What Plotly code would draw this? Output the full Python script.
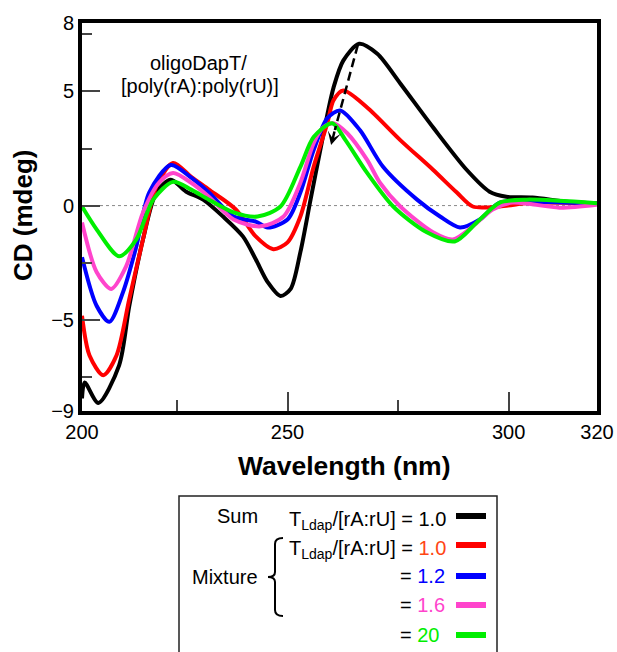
import plotly.graph_objects as go

# ---------------- data ----------------
sum_x = [203.5, 204.1, 207.2, 211.9, 214.2, 217.3, 220.3, 223.6, 227.0, 230.9, 235.4, 239.9,
         242.8, 245.5, 248.4, 250.7, 252.9, 255.2, 257.4, 259.2, 260.4, 262.6, 266.2, 270.3,
         275.5, 282.9, 290.5, 295.7, 299.5, 305.4, 313.1, 320.0]
sum_y = [-8.45, -7.75, -8.65, -7.0, -4.39, -1.48, 0.57, 1.13, 0.62, 0.26, -0.48, -1.35,
         -2.35, -3.35, -3.96, -3.65, -2.04, 0.26, 2.43, 4.17, 5.17, 6.35, 7.09, 6.65,
         5.35, 3.43, 1.57, 0.61, 0.39, 0.35, 0.17, 0.09]

mix10_x = [203.5, 205.2, 208.3, 211.3, 214.2, 217.3, 220.3, 224.1, 228.2, 232.2, 238.3, 242.8,
           246.8, 250.0, 252.9, 255.9, 259.0, 260.4, 262.6, 268.0, 275.5, 282.9, 288.3, 291.9,
           298.0, 305.4, 320.0]
mix10_y = [-4.83, -6.57, -7.43, -6.57, -4.09, -1.48, 0.83, 1.87, 1.26, 0.70, -0.17, -1.35,
           -1.91, -1.61, -0.48, 1.70, 3.61, 4.61, 5.04, 4.30, 2.87, 1.57, 0.57, -0.04,
           -0.04, 0.13, 0.09]

mix12_x = [203.5, 206.8, 209.7, 212.8, 215.8, 218.7, 223.6, 228.2, 232.2, 237.8, 242.8, 245.5,
           250.0, 252.9, 255.9, 259.0, 261.9, 266.4, 271.6, 279.3, 284.5, 289.0, 293.5, 298.0,
           305.4, 320.0]
mix12_y = [-2.26, -4.39, -5.09, -3.78, -1.78, 0.57, 1.78, 1.22, 0.57, -0.48, -0.70, -0.96,
           -0.61, 0.57, 2.43, 3.83, 4.17, 3.30, 1.70, 0.26, -0.48, -0.96, -0.61, 0.13,
           0.17, 0.09]

mix16_x = [203.5, 206.8, 210.1, 213.5, 217.3, 220.9, 224.1, 228.2, 232.2, 237.8, 243.9, 249.1,
           252.9, 255.9, 258.1, 260.4, 263.5, 268.0, 270.9, 275.5, 282.9, 287.4, 291.9, 296.4,
           300.9, 311.5, 320.0]
mix16_y = [-0.74, -2.91, -3.65, -2.65, -0.30, 1.0, 1.43, 1.0, 0.39, -0.61, -0.91, -0.48,
           1.0, 2.74, 3.43, 3.61, 3.17, 2.0, 1.0, -0.04, -1.17, -1.48, -0.91, -0.17,
           0.13, -0.09, 0.04]

mix20_x = [203.5, 206.8, 211.9, 215.8, 219.6, 224.1, 228.2, 232.2, 237.8, 243.2, 248.4, 252.9,
           255.9, 260.1, 263.1, 268.0, 273.9, 281.5, 287.8, 292.8, 298.0, 304.1, 320.0]
mix20_y = [-0.04, -1.04, -2.22, -1.48, 0.26, 1.04, 0.70, 0.26, -0.30, -0.48, -0.04, 1.70,
           3.0, 3.61, 2.87, 1.43, -0.04, -1.17, -1.57, -0.74, 0.13, 0.26, 0.10]

series = [
    ("Sum 1.0", sum_x, sum_y, "#000000"),
    ("Mixture 1.0", mix10_x, mix10_y, "#FF0000"),
    ("Mixture 1.2", mix12_x, mix12_y, "#0000FF"),
    ("Mixture 1.6", mix16_x, mix16_y, "#FF44CC"),
    ("Mixture 20", mix20_x, mix20_y, "#00EE00"),
]

x_tickvals = [203.5, 250, 300, 320]
x_ticktext = ["200", "250", "300", "320"]
y_tickvals = [-9, -5, 0, 5, 8]
y_ticktext = ["\u22129", "\u22125", "0", "5", "8"]

arrow_start = (265.9, 7.04)
arrow_end = (260.7, 3.31)
arrow_tip = (259.85, 2.65)

legend_rows = [
    ("T<sub>Ldap</sub>/[rA:rU] = ", "1.0", "#000000", "#000000"),
    ("T<sub>Ldap</sub>/[rA:rU] = ", "1.0", "#FF4514", "#FF0000"),
    ("= ", "1.2", "#0000FF", "#0000FF"),
    ("= ", "1.6", "#FF44CC", "#FF44CC"),
    ("= ", "20", "#00EE00", "#00EE00"),
]

# ---------------- figure ----------------
W, H = 617, 652
L, R, T, B = 82, 597, 23, 411  # plot area in pixels

def px(x):
    return (x - L) / (R - L)

def py(y):
    return (B - y) / (B - T)

FONT = "Arial, Liberation Sans, Helvetica, sans-serif"

fig = go.Figure()
for name, xs, ys, col in series:
    fig.add_trace(go.Scatter(x=xs, y=ys, mode="lines", name=name,
                             line=dict(color=col, width=4, shape="spline", smoothing=0.8),
                             showlegend=False, hoverinfo="skip"))

shapes = []
# zero line
shapes.append(dict(type="line", xref="paper", yref="y", x0=0, x1=1, y0=0, y1=0,
                   line=dict(color="#888888", width=1, dash="dot"), layer="below"))
# dashed arrow shaft
shapes.append(dict(type="line", xref="x", yref="y", x0=arrow_start[0], y0=arrow_start[1],
                   x1=arrow_end[0], y1=arrow_end[1],
                   line=dict(color="black", width=2.5, dash="9px,5px")))

annotations = []
# arrow head
annotations.append(dict(x=arrow_tip[0], y=arrow_tip[1], xref="x", yref="y",
                        ax=arrow_end[0], ay=arrow_end[1], axref="x", ayref="y",
                        showarrow=True, arrowhead=3, arrowsize=0.9, arrowwidth=2.5,
                        arrowcolor="black", text=""))
# in-plot label
annotations.append(dict(x=px(198), y=py(63), xref="paper", yref="paper", text="oligoDapT/",
                        showarrow=False, font=dict(size=20, color="black", family=FONT),
                        xanchor="center", yanchor="middle"))
annotations.append(dict(x=px(199.5), y=py(86), xref="paper", yref="paper",
                        text="[poly(rA):poly(rU)]", showarrow=False,
                        font=dict(size=20, color="black", family=FONT),
                        xanchor="center", yanchor="middle"))
# axis titles
annotations.append(dict(x=px(23), y=py(216), xref="paper", yref="paper", text="<b>CD (mdeg)</b>",
                        textangle=-90, showarrow=False,
                        font=dict(size=26, color="black", family=FONT),
                        xanchor="center", yanchor="middle"))
annotations.append(dict(x=px(344), y=py(466), xref="paper", yref="paper",
                        text="<b>Wavelength (nm)</b>", showarrow=False,
                        font=dict(size=26.5, color="black", family=FONT),
                        xanchor="center", yanchor="middle"))

# legend box
shapes.append(dict(type="rect", xref="paper", yref="paper", x0=px(179), x1=px(497),
                   y0=py(496), y1=py(720), line=dict(color="#222222", width=1.5),
                   fillcolor="rgba(0,0,0,0)"))
row_y = [516, 545, 576, 605, 635]
for i, (pre, val, tcol, lcol) in enumerate(legend_rows):
    txt = pre + "<span style='color:%s'>%s</span>" % (tcol, val)
    if i < 2:
        annotations.append(dict(x=px(448), y=py(row_y[i] + 4), xref="paper", yref="paper",
                                text=txt, showarrow=False, xanchor="right", yanchor="middle",
                                font=dict(size=20, color="black", family=FONT)))
    else:
        annotations.append(dict(x=px(398), y=py(row_y[i]), xref="paper", yref="paper",
                                text=txt, showarrow=False, xanchor="left", yanchor="middle",
                                font=dict(size=20, color="black", family=FONT)))
    shapes.append(dict(type="line", xref="paper", yref="paper", x0=px(456), x1=px(486),
                       y0=py(row_y[i]), y1=py(row_y[i]), line=dict(color=lcol, width=6)))

annotations.append(dict(x=px(260), y=py(516), xref="paper", yref="paper", text="Sum",
                        showarrow=False, xanchor="right", yanchor="middle",
                        font=dict(size=20, color="black", family=FONT)))
annotations.append(dict(x=px(260), y=py(577), xref="paper", yref="paper", text="Mixture",
                        showarrow=False, xanchor="right", yanchor="middle",
                        font=dict(size=20, color="black", family=FONT)))
# brace
bx, bt, bm, bb = 275, 538, 577, 616
path = ("M {a},{b} Q {c},{d} {e},{f} L {e},{g} Q {e},{h} {i},{h} "
        "Q {e},{h} {e},{j} L {e},{k} Q {c2},{l} {a},{l}").format(
    a=px(283), b=py(bt), c=px(bx), d=py(bt), e=px(bx), f=py(bt + 6), g=py(bm - 5),
    h=py(bm), i=px(268), j=py(bm + 5), k=py(bb - 6), c2=px(bx), l=py(bb))
shapes.append(dict(type="path", xref="paper", yref="paper", path=path,
                   line=dict(color="black", width=2)))

fig.update_layout(
    width=W, height=H,
    margin=dict(l=L, r=W - R, t=T, b=H - B, pad=0, autoexpand=False),
    paper_bgcolor="white", plot_bgcolor="white",
    font=dict(family=FONT, size=20, color="black"),
    shapes=shapes, annotations=annotations,
    xaxis=dict(range=[203.5, 320], tickmode="array", tickvals=x_tickvals, ticktext=x_ticktext,
               ticks="inside", ticklen=19, tickwidth=1.5, tickcolor="#444444",
               minor=dict(tick0=225, dtick=50, ticks="inside", ticklen=11, tickwidth=1.5,
                          tickcolor="#444444"),
               showline=True, linewidth=4, linecolor="black", mirror=True, automargin=False,
               showgrid=False, zeroline=False, tickfont=dict(size=20, family=FONT)),
    yaxis=dict(range=[-9, 8], tickmode="array", tickvals=y_tickvals, ticktext=y_ticktext,
               ticks="inside", ticklen=18, tickwidth=1.5, tickcolor="#444444",
               minor=dict(tick0=2.5, dtick=5, ticks="inside", ticklen=10, tickwidth=1.5,
                          tickcolor="#444444"),
               showline=True, linewidth=4, linecolor="black", mirror=True, automargin=False,
               showgrid=False, zeroline=False, tickfont=dict(size=20, family=FONT)),
)

fig.write_html("out.html", config={"displayModeBar": False},
               post_script="document.body.style.margin='0px';document.body.style.overflow='hidden';")
